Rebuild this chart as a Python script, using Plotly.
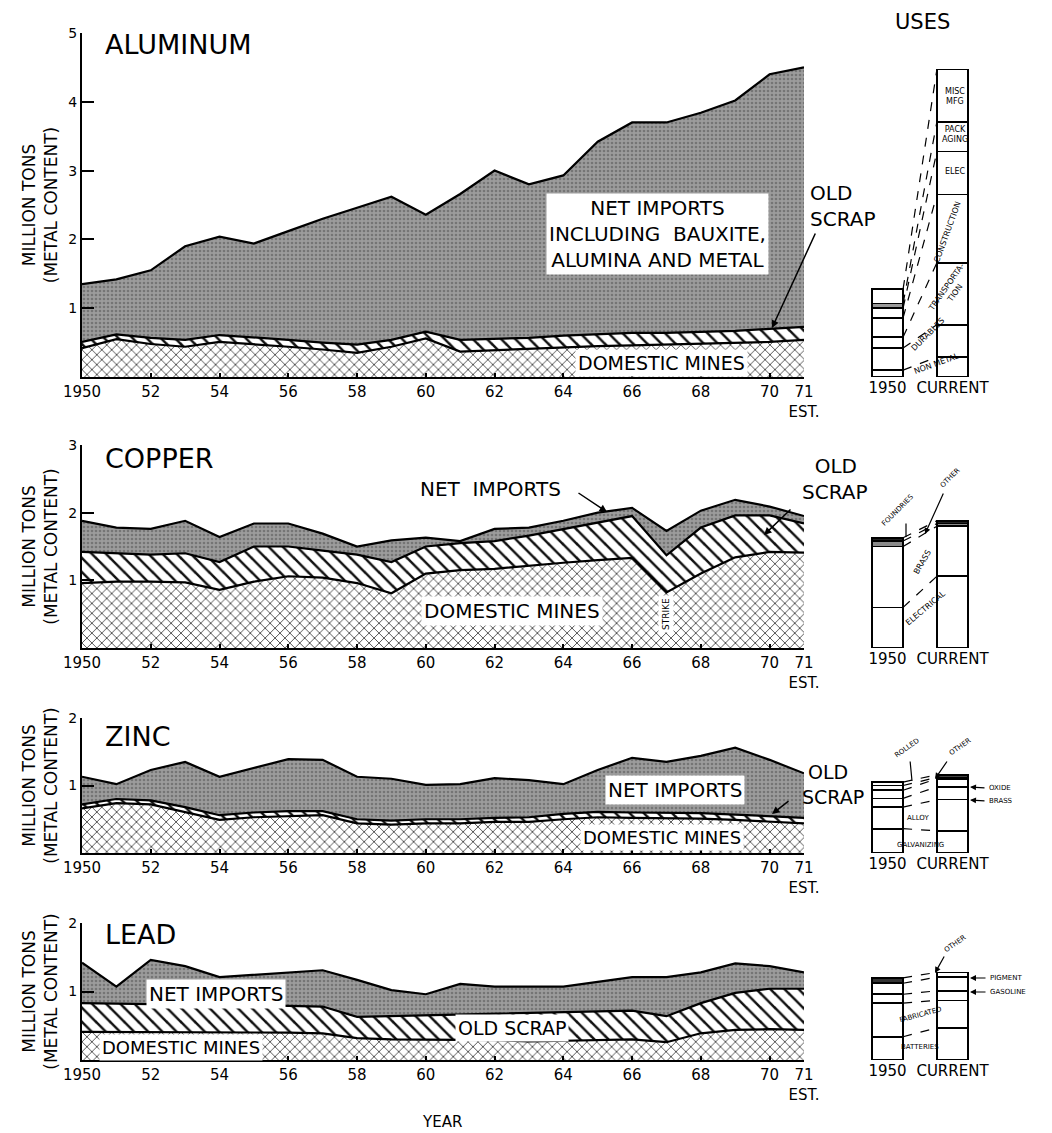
import plotly.graph_objects as go
from itertools import accumulate

# ---------------- DATA ----------------
years = list(range(1950, 1972))
year_ticks = [1950, 1952, 1954, 1956, 1958, 1960, 1962, 1964, 1966, 1968, 1970, 1971]
year_ticktext = ['1950', '52', '54', '56', '58', '60', '62', '64', '66', '68', '70', '71<br>EST.']

# cumulative levels (million tons metal content): domestic mines, + old scrap, + net imports (total)
al_mines = [0.42, 0.55, 0.48, 0.44, 0.51, 0.48, 0.44, 0.40, 0.35, 0.44, 0.56, 0.37, 0.39, 0.42, 0.44, 0.45, 0.46, 0.47, 0.49, 0.50, 0.51, 0.54]
al_scrap_top = [0.51, 0.62, 0.57, 0.54, 0.61, 0.58, 0.54, 0.50, 0.47, 0.54, 0.66, 0.54, 0.55, 0.57, 0.60, 0.62, 0.64, 0.64, 0.65, 0.67, 0.70, 0.73]
al_total = [1.35, 1.42, 1.55, 1.90, 2.04, 1.94, 2.12, 2.30, 2.46, 2.62, 2.36, 2.66, 3.00, 2.80, 2.93, 3.42, 3.70, 3.70, 3.84, 4.02, 4.40, 4.50]

cu_mines = [0.96, 0.98, 0.98, 0.97, 0.86, 0.98, 1.06, 1.04, 0.96, 0.81, 1.10, 1.15, 1.17, 1.22, 1.26, 1.30, 1.33, 0.82, 1.10, 1.34, 1.42, 1.41]
cu_scrap_top = [1.42, 1.40, 1.38, 1.40, 1.27, 1.50, 1.50, 1.44, 1.38, 1.27, 1.50, 1.55, 1.58, 1.66, 1.76, 1.86, 1.95, 1.37, 1.78, 1.96, 1.96, 1.84]
cu_total = [1.88, 1.78, 1.76, 1.88, 1.64, 1.84, 1.84, 1.69, 1.50, 1.59, 1.63, 1.58, 1.76, 1.78, 1.88, 2.00, 2.07, 1.73, 2.03, 2.19, 2.09, 1.95]

zn_mines = [0.66, 0.74, 0.72, 0.61, 0.49, 0.53, 0.55, 0.56, 0.44, 0.42, 0.44, 0.44, 0.46, 0.46, 0.50, 0.53, 0.52, 0.52, 0.51, 0.49, 0.46, 0.44]
zn_scrap_top = [0.72, 0.80, 0.78, 0.68, 0.56, 0.60, 0.62, 0.62, 0.50, 0.48, 0.50, 0.50, 0.52, 0.53, 0.58, 0.61, 0.60, 0.60, 0.59, 0.57, 0.54, 0.52]
zn_total = [1.13, 1.02, 1.23, 1.35, 1.13, 1.26, 1.39, 1.38, 1.13, 1.10, 1.01, 1.02, 1.11, 1.08, 1.02, 1.23, 1.41, 1.35, 1.44, 1.56, 1.38, 1.18]

pb_mines = [0.41, 0.41, 0.40, 0.40, 0.40, 0.40, 0.40, 0.39, 0.32, 0.30, 0.30, 0.30, 0.29, 0.27, 0.28, 0.30, 0.30, 0.26, 0.39, 0.44, 0.45, 0.44]
pb_scrap_top = [0.83, 0.82, 0.82, 0.81, 0.80, 0.80, 0.79, 0.78, 0.63, 0.64, 0.65, 0.66, 0.67, 0.69, 0.70, 0.71, 0.72, 0.64, 0.83, 0.98, 1.04, 1.04]
pb_total = [1.42, 1.07, 1.46, 1.37, 1.21, 1.24, 1.27, 1.31, 1.17, 1.02, 0.96, 1.11, 1.07, 1.07, 1.07, 1.14, 1.21, 1.21, 1.28, 1.41, 1.37, 1.28]

# uses (stacked from bottom), 1950 vs current
uses_x = [1, 3]
uses_ticktext = ['1950', 'CURRENT']
al_uses_cats = ['NON METAL', 'DURABLES', 'TRANSPORTATION', 'CONSTRUCTION', 'ELEC', 'PACKAGING', 'MISC MFG']
al_uses_1950 = [0.10, 0.32, 0.16, 0.28, 0.14, 0.07, 0.21]
al_uses_now = [0.29, 0.47, 0.90, 0.99, 0.63, 0.43, 0.76]
cu_uses_cats = ['ELECTRICAL', 'BRASS', 'FOUNDRIES', 'OTHER']
cu_uses_1950 = [0.60, 0.90, 0.08, 0.05]
cu_uses_now = [1.06, 0.74, 0.04, 0.04]
zn_uses_cats = ['GALVANIZING', 'ALLOY', 'BRASS', 'OXIDE', 'ROLLED', 'OTHER']
zn_uses_1950 = [0.36, 0.32, 0.13, 0.12, 0.07, 0.05]
zn_uses_now = [0.33, 0.46, 0.19, 0.12, 0.02, 0.04]
pb_uses_cats = ['BATTERIES', 'FABRICATED', 'GASOLINE', 'PIGMENT', 'OTHER']
pb_uses_1950 = [0.34, 0.49, 0.13, 0.16, 0.08]
pb_uses_now = [0.47, 0.40, 0.14, 0.20, 0.07]

# ---------------- LAYOUT HELPERS ----------------
W, H = 1052, 1133
FONT = 'DejaVu Sans, Liberation Sans, Arial, sans-serif'

# style: shading of particular use segments ([1950, current])
seg_colors = {
    ('ALUMINUM', 'PACKAGING'): ['#9a9a9a', 'white'],
    ('COPPER', 'FOUNDRIES'): ['#8a8a8a', '#8a8a8a'],
    ('COPPER', 'OTHER'): ['#222222', '#222222'],
    ('ZINC', 'OTHER'): ['white', '#444444'],
    ('LEAD', 'OTHER'): ['#333333', 'white'],
}


def px(x):
    return x / W


def py(y):
    return 1 - y / H


panels = [
    dict(title='ALUMINUM', mines=al_mines, scrap=al_scrap_top, total=al_total, ymax=5, top=33, bot=377,
         cats=al_uses_cats, u50=al_uses_1950, unow=al_uses_now, titley=45),
    dict(title='COPPER', mines=cu_mines, scrap=cu_scrap_top, total=cu_total, ymax=3, top=445, bot=648,
         cats=cu_uses_cats, u50=cu_uses_1950, unow=cu_uses_now, titley=459),
    dict(title='ZINC', mines=zn_mines, scrap=zn_scrap_top, total=zn_total, ymax=2, top=718, bot=853,
         cats=zn_uses_cats, u50=zn_uses_1950, unow=zn_uses_now, titley=736),
    dict(title='LEAD', mines=pb_mines, scrap=pb_scrap_top, total=pb_total, ymax=2, top=923, bot=1060,
         cats=pb_uses_cats, u50=pb_uses_1950, unow=pb_uses_now, titley=934),
]

fig = go.Figure()
layout = {}
annotations = []

cross = dict(shape='x', fgcolor='#1e1e1e', bgcolor='white', size=7, solidity=0.2)
diag = dict(shape='\\', fgcolor='#111111', bgcolor='white', size=10, solidity=0.25)
stip = dict(shape='.', fgcolor='#757575', bgcolor='#9c9c9c', size=4, solidity=0.35)

for i, p in enumerate(panels):
    n = i + 1
    xa = 'x' if n == 1 else f'x{n}'
    ya = 'y' if n == 1 else f'y{n}'
    xk = 'xaxis' if n == 1 else f'xaxis{n}'
    yk = 'yaxis' if n == 1 else f'yaxis{n}'
    line = dict(color='black', width=2.2)
    fig.add_trace(go.Scatter(x=years, y=p['mines'], mode='lines', fill='tozeroy', fillpattern=cross,
                             line=line, xaxis=xa, yaxis=ya, showlegend=False, name='Domestic mines'))
    fig.add_trace(go.Scatter(x=years, y=p['scrap'], mode='lines', fill='tonexty', fillpattern=diag,
                             line=line, xaxis=xa, yaxis=ya, showlegend=False, name='Old scrap'))
    fig.add_trace(go.Scatter(x=years, y=p['total'], mode='lines', fill='tonexty', fillpattern=stip,
                             line=line, xaxis=xa, yaxis=ya, showlegend=False, name='Net imports'))
    ydom = [py(p['bot']), py(p['top'])]
    layout[xk] = dict(domain=[px(82), px(804)], range=[1950, 1971], anchor=ya, showline=True, linecolor='black',
                      linewidth=2, ticks='inside', ticklen=4, tickwidth=1.5, tickcolor='black',
                      tickvals=year_ticks, ticktext=year_ticktext, showgrid=False, zeroline=False,
                      automargin=False, tickfont=dict(family=FONT, size=15, color='black'))
    layout[yk] = dict(domain=ydom, range=[0, p['ymax']], anchor=xa, showline=True, linecolor='black',
                      linewidth=2, ticks='inside', ticklen=12, tickwidth=2, tickcolor='black',
                      tickvals=list(range(1, p['ymax'] + 1)), showgrid=False, zeroline=False,
                      automargin=False, tickfont=dict(family=FONT, size=14, color='black'),
                      title=dict(text='MILLION TONS<br>(METAL CONTENT)', standoff=6,
                                 font=dict(family=FONT, size=17, color='black')))

    # uses bars
    m = n + 4
    uxa, uya = f'x{m}', f'y{m}'
    for j, cat in enumerate(p['cats']):
        colors = seg_colors.get((p['title'], cat), ['white', 'white'])
        fig.add_trace(go.Bar(x=uses_x, y=[p['u50'][j], p['unow'][j]], width=0.95, name=cat,
                             marker=dict(color=colors, line=dict(color='black', width=1.6)),
                             xaxis=uxa, yaxis=uya, showlegend=False))
    c50 = list(accumulate(p['u50']))
    cnow = list(accumulate(p['unow']))
    for a, b in zip(c50, cnow):
        fig.add_trace(go.Scatter(x=[1.48, 2.52], y=[a, b], mode='lines', xaxis=uxa, yaxis=uya,
                                 line=dict(color='black', width=1.2, dash='dash'), showlegend=False,
                                 hoverinfo='skip'))
    layout[f'xaxis{m}'] = dict(domain=[px(855), px(985)], range=[0, 4], anchor=uya, showline=False,
                               showgrid=False, zeroline=False, ticks='', tickvals=uses_x, automargin=False,
                               ticktext=uses_ticktext, tickfont=dict(family=FONT, size=15, color='black'))
    layout[f'yaxis{m}'] = dict(domain=ydom, range=[0, p['ymax']], anchor=uxa, visible=False, automargin=False)

    annotations.append(dict(x=px(103), y=py(p['titley']), xref='paper', yref='paper', text=p['title'],
                            showarrow=False, xanchor='left', yanchor='middle',
                            font=dict(family=FONT, size=27, color='black')))


def label(x, y, text, size=16, box=False, angle=0, xanchor='center', align='center'):
    d = dict(x=px(x), y=py(y), xref='paper', yref='paper', text=text, showarrow=False,
             font=dict(family=FONT, size=size, color='black'), textangle=angle, xanchor=xanchor,
             yanchor='middle', align=align)
    if box:
        d.update(bgcolor='white', borderpad=2)
    annotations.append(d)


def arrow(x_tip, y_tip, x_tail, y_tail, head=2, width=1.5):
    annotations.append(dict(x=px(x_tip), y=py(y_tip), xref='paper', yref='paper', text='',
                            showarrow=True, ax=x_tail - x_tip, ay=y_tail - y_tip, axref='pixel',
                            ayref='pixel', arrowhead=head, arrowwidth=width, arrowsize=1,
                            arrowcolor='black'))


# aluminum labels
label(657, 234, 'NET IMPORTS<br>INCLUDING  BAUXITE,<br>ALUMINA AND METAL', 20, box=True)
label(808, 206, 'OLD<br>SCRAP', 20, align='left', xanchor='left')
arrow(772, 328, 816, 232)
label(661, 363, 'DOMESTIC MINES', 19, box=True)
# copper labels
label(490, 489, 'NET  IMPORTS', 20)
arrow(607, 512, 577, 492)
label(800, 479, '  OLD<br>SCRAP', 20, align='left', xanchor='left')
arrow(764, 535, 792, 508)
label(512, 611, 'DOMESTIC MINES', 20, box=True)
label(666, 614, 'STRIKE', 9, box=True, angle=-90)
# zinc labels
label(675, 790, 'NET IMPORTS', 20, box=True)
label(800, 784, ' OLD<br>SCRAP', 19, align='left', xanchor='left')
arrow(772, 814, 790, 800)
label(662, 837, 'DOMESTIC MINES', 18, box=True)
# lead labels
label(216, 994, 'NET IMPORTS', 20, box=True)
label(512, 1028, 'OLD SCRAP', 19, box=True)
label(181, 1047, 'DOMESTIC MINES', 18, box=True)
label(442, 1122, 'YEAR', 15)
label(922, 22, 'USES', 21)

# small use labels
s = 8
label(955, 97, 'MISC<br>MFG', s)
label(955, 134, 'PACK<br>AGING', s)
label(955, 172, 'ELEC', s)
label(947, 232, 'CONSTRUCTION', s, angle=-70)
label(950, 290, 'TRANSPORTA-<br>TION', s, angle=-55)
label(928, 335, 'DURABLES', s, angle=-45)
label(937, 364, 'NON METAL', s, angle=-20)

label(898, 510, 'FOUNDRIES', 7, angle=-45)
arrow(906, 537, 906, 522, head=0, width=1.2)
label(950, 478, 'OTHER', 7, angle=-45)
arrow(925, 534, 944, 492, head=2, width=1.2)
label(922, 562, 'BRASS', s, angle=-60)
label(925, 608, 'ELECTRICAL', s, angle=-40)

label(907, 748, 'ROLLED', 7, angle=-35)
arrow(912, 781, 910, 760, head=0, width=1.2)
label(960, 747, 'OTHER', 7, angle=-35)
arrow(935, 779, 948, 760, head=2, width=1.2)
label(987, 788, 'OXIDE', 7, xanchor='left')
arrow(970, 787, 986, 788, head=2, width=1.2)
label(987, 801, 'BRASS', 7, xanchor='left')
arrow(970, 800, 986, 801, head=2, width=1.2)
label(918, 818, 'ALLOY', 7)
label(920, 845, 'GALVANIZING', 7)

label(955, 944, 'OTHER', 7, angle=-35)
arrow(935, 973, 945, 955, head=2, width=1.2)
label(988, 978, 'PIGMENT', 7, xanchor='left')
arrow(970, 978, 987, 978, head=2, width=1.2)
label(988, 992, 'GASOLINE', 7, xanchor='left')
arrow(970, 992, 987, 992, head=2, width=1.2)
label(920, 1015, 'FABRICATED', 7, angle=-15)
label(920, 1047, 'BATTERIES', 7)

fig.update_layout(template='none', width=W, height=H, margin=dict(l=0, r=0, t=0, b=0, pad=0),
                  paper_bgcolor='white', plot_bgcolor='white', barmode='stack', showlegend=False,
                  annotations=annotations, font=dict(family=FONT, color='black'), **layout)

fig.write_html('out.html')
